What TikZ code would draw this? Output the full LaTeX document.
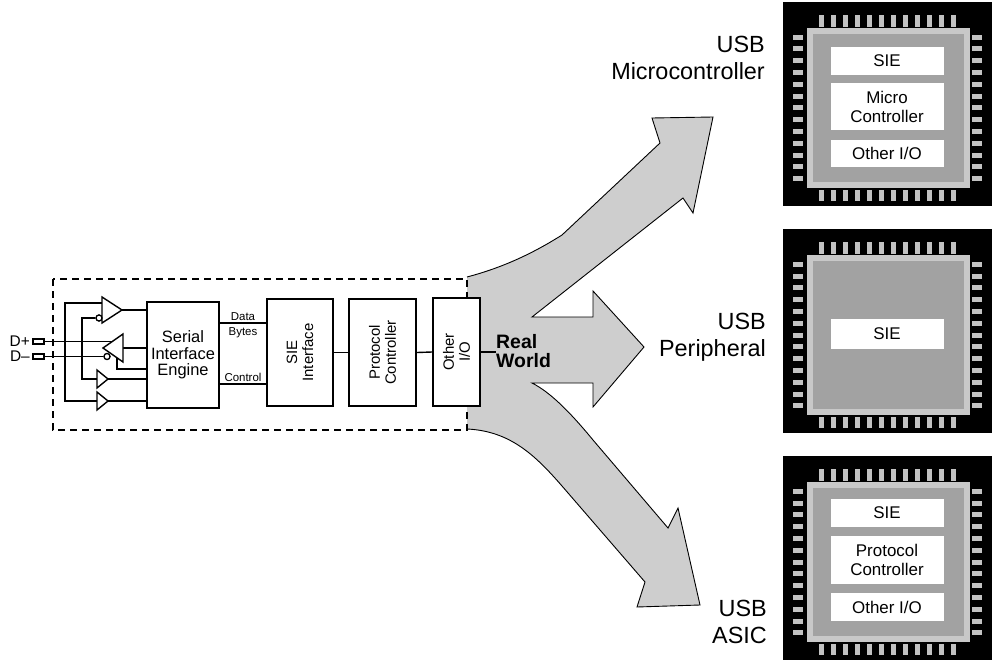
\documentclass[tikz,border=0pt]{standalone}
\usepackage{fontspec}
\setmainfont{Liberation Sans}
\usetikzlibrary{calc}

\definecolor{flowgray}{HTML}{CECECE}
\definecolor{diegray}{HTML}{A2A2A2}
\definecolor{ringgray}{HTML}{C8C8C8}
\definecolor{pingray}{HTML}{C2C2C2}

\newcommand\fsize[2]{\fontsize{#1}{#2}\selectfont}

% chip package: black body, die with a lighter rim, 12 pins top/bottom, 13 pins left/right
\newcommand\chipframe[2]{%
  \begin{scope}[shift={(#1,#2)}]
    \fill[black] (0,0) rectangle (209,204);
    \fill[ringgray] (24,26) rectangle (187,186);
    \fill[diegray] (30,32) rectangle (181,180);
    \foreach \i in {0,...,11}{
      \fill[pingray] ({104.5+12*(\i-5.5)-2.5},13) rectangle ++(5,12);
      \fill[pingray] ({104.5+12*(\i-5.5)-2.5},188) rectangle ++(5,11);
    }
    \foreach \i in {0,...,12}{
      \fill[pingray] (10,{106+11.8*(\i-6)-2.5}) rectangle ++(10,5);
      \fill[pingray] (189,{106+11.8*(\i-6)-2.5}) rectangle ++(10,5);
    }
  \end{scope}}

\begin{document}
\begin{tikzpicture}[x=1bp, y=-1bp, line join=miter,
  block/.style={draw, line width=2bp, fill=white, inner sep=0pt, align=center},
  rotblock/.style={block, rotate=90, font=\fsize{15}{16}},
  wire/.style={line width=1.4bp},
  gate/.style={draw, line width=1.4bp, fill=white},
  bubble/.style={draw, line width=1.2bp, fill=white, circle, inner sep=0pt, minimum size=6bp},
  pinpad/.style={draw, line width=1.2bp, fill=white, inner sep=0pt, minimum width=11bp, minimum height=5bp},
  boundary/.style={line width=1.3bp, dash pattern=on 7bp off 5bp},
  flowedge/.style={line width=0.9bp},
  small/.style={inner sep=0pt, font=\fsize{11.5}{12}},
  usblabel/.style={anchor=east, align=right, inner sep=0pt, font=\fsize{23.5}{27}},
  chipbox/.style={fill=white, inner sep=0pt, minimum width=113bp, align=center, font=\fsize{17}{19}}
]
\useasboundingbox (0,0) rectangle (993,662);

% ---- shaded flow arrows out of the "real world" side ----
\fill[flowgray] (467,277) .. controls (505,267) and (535,252) .. (562,235) -- (660,143)
  -- (652,118) -- (713,117) -- (693,213) -- (683,198) -- (532,317)
  -- (593,317) -- (593,291) -- (644,347) -- (593,407) -- (593,383) -- (532,383)
  .. controls (550,392) and (570,412) .. (593,440) -- (668,528)
  -- (678,508) -- (700,605) -- (637,607) -- (645,582) -- (562,486)
  .. controls (535,455) and (510,431) .. (467,429) -- cycle;
\draw[flowedge] (467,277) .. controls (505,267) and (535,252) .. (562,235) -- (660,143)
  -- (652,118) -- (713,117) -- (693,213) -- (683,198) -- (532,317)
  -- (593,317) -- (593,291) -- (644,347) -- (593,407) -- (593,383) -- (532,383)
  .. controls (550,392) and (570,412) .. (593,440) -- (668,528)
  -- (678,508) -- (700,605) -- (637,607) -- (645,582) -- (562,486)
  .. controls (535,455) and (510,431) .. (467,429);

% ---- device boundary ----
\draw[boundary] (53,279) rectangle (467,430);

% ---- functional blocks ----
\node[block, minimum width=72bp, minimum height=106bp, font=\fsize{16.5}{16.5}]
  (sie) at (183,355) {Serial\\Interface\\Engine};
\node[rotblock, minimum width=107bp, minimum height=66bp] (sieif) at (300,352.5) {SIE\\Interface};
\node[rotblock, minimum width=107bp, minimum height=67bp] (proto) at (382.5,352.5) {Protocol\\Controller};
\node[rotblock, minimum width=108bp, minimum height=47bp] (otherio) at (456.5,352) {Other\\I/O};

\coordinate (dataY) at (0,323);
\coordinate (ctrlY) at (0,384);
\draw[wire] (sie.east |- dataY) -- (sieif.north |- dataY);
\draw[wire] (sie.east |- ctrlY) -- (sieif.north |- ctrlY);
\node[small] (datalbl) at (243,317) {Data};
\node[small] (byteslbl) at (243,333) {Bytes};
\node[small] (ctrllbl) at (243,377) {Control};

\draw[wire] (sieif.south) -- (proto.north);
\draw[wire] (proto.south) -- (otherio.north);

\node[anchor=west, align=left, inner sep=0pt, font=\fsize{19.5}{19.5}\bfseries] (real) at (496,351) {Real\\World};
\draw[wire] (otherio.south) -- (otherio.south -| real.west);

% ---- USB line pads ----
\node[pinpad] (dp) at (38.5,341.5) {};
\node[pinpad] (dm) at (38.5,356.5) {};
\node[anchor=east, inner sep=0pt, font=\fsize{15.5}{16}] (dplbl) at (30,341.5) {D+};
\node[anchor=east, inner sep=0pt, font=\fsize{15.5}{16}] (dmlbl) at (30,356.5) {D\textendash};

% ---- transceiver: receivers and driver ----
\coordinate (rxAtip) at (122,310);
\coordinate (rxAin) at (102,303);
\coordinate (txBin) at (123,348);
\coordinate (txBen) at (117,352);
\coordinate (txBp) at (118,341.5);
\coordinate (enY) at (0,369);
\coordinate (rxCin) at (97,379);
\coordinate (rxCtip) at (108,379);
\coordinate (rxDin) at (97,401);
\coordinate (rxDtip) at (108,401);
\coordinate (busO) at (65,0);
\coordinate (busI) at (82,0);
\node[bubble] (bubA) at (99,318) {};
\node[bubble] (bubB) at (107,356.5) {};

\draw[wire] (rxAtip) -- (rxAtip -| sie.west);
\draw[wire] (txBin) -- (txBin -| sie.west);
\draw[wire] (txBen) -- (txBen |- enY) -- (enY -| sie.west);
\draw[wire] (rxCtip) -- (rxCtip -| sie.west);
\draw[wire] (rxDtip) -- (rxDtip -| sie.west);
\draw[wire] (rxAin) -- (rxAin -| busO) -- (busO |- rxDin) -- (rxDin);
\draw[wire] (bubA.west) -- (bubA.west -| busI) -- (busI |- rxCin) -- (rxCin);
\draw[wire] (dp.east) -- (txBp);
\draw[wire] (dm.east) -- (bubB.west);

\draw[gate] (102,297) -- (rxAtip) -- (102,323) -- cycle;
\draw[gate] (123,334) -- (103,348) -- (123,362) -- cycle;
\draw[gate] (97,370) -- (rxCtip) -- (97,388) -- cycle;
\draw[gate] (97,392) -- (rxDtip) -- (97,410) -- cycle;
\node[bubble] at (bubA) {};
\node[bubble] at (bubB) {};

% ---- target devices ----
\node[usblabel] (lblmc) at (765,58) {USB\\Microcontroller};
\node[usblabel] (lblper) at (766,337.5) {USB\\Peripheral};
\node[usblabel] (lblasic) at (767,622) {USB\\ASIC};

\chipframe{783}{2}
\node[chipbox, minimum height=28bp] (mcsie) at (887,61) {SIE};
\node[chipbox, minimum height=47bp] (mcmc) at (887,106.5) {Micro\\Controller};
\node[chipbox, minimum height=27bp] (mcio) at (887,153.5) {Other I/O};

\chipframe{783}{229}
\node[chipbox, minimum height=30bp] (persie) at (887,334) {SIE};

\chipframe{783}{456}
\node[chipbox, minimum height=28bp] (asicsie) at (887,513) {SIE};
\node[chipbox, minimum height=48bp] (asicpc) at (887,560) {Protocol\\Controller};
\node[chipbox, minimum height=28bp] (asicio) at (887,607) {Other I/O};
\end{tikzpicture}
\end{document}
